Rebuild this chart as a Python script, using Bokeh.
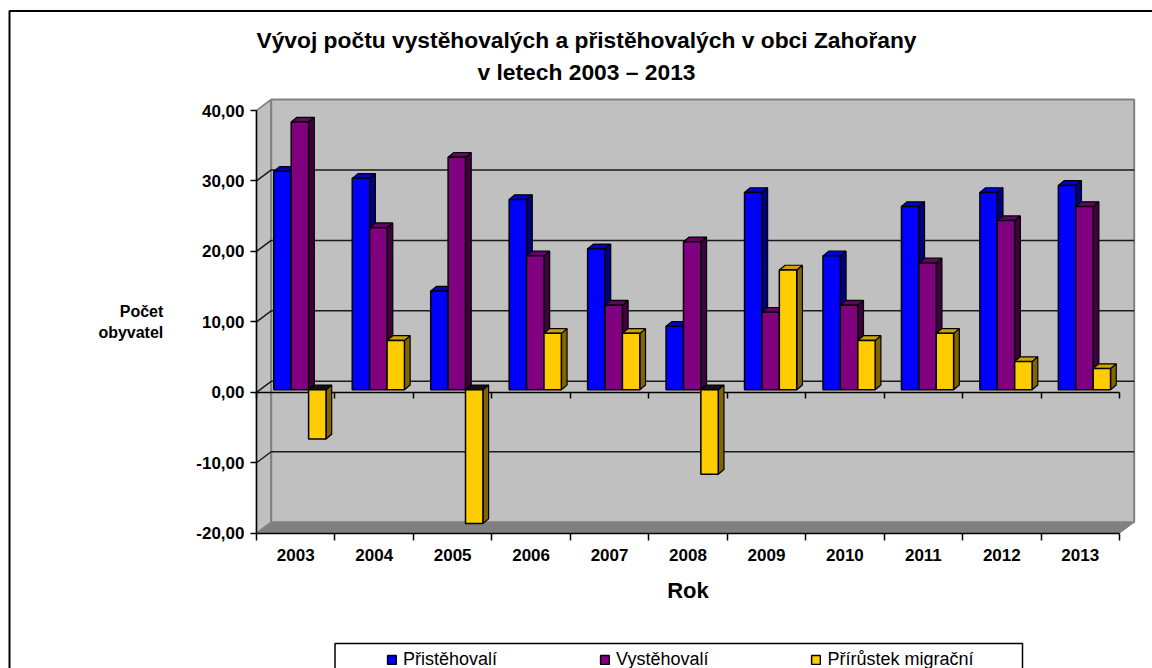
from bokeh.plotting import figure
from bokeh.embed import file_html
from bokeh.resources import INLINE
from bokeh.models import (Range1d, LinearAxis, FixedTicker, Legend, LegendItem, Label)

years = ["2003", "2004", "2005", "2006", "2007", "2008", "2009", "2010", "2011", "2012", "2013"]
pristehovali = [31, 30, 14, 27, 20, 9, 28, 19, 26, 28, 29]
vystehovali = [38, 23, 33, 19, 12, 21, 11, 12, 18, 24, 26]
prirustek = [-7, 7, -19, 8, 8, -12, 17, 7, 8, 4, 3]
y_ticks = [-20, -10, 0, 10, 20, 30, 40]
y_labels = ["-20,00", "-10,00", "0,00", "10,00", "20,00", "30,00", "40,00"]
series_names = ["Přistěhovalí", "Vystěhovalí", "Přírůstek migrační"]
front_colors = ["#0000FF", "#800080", "#FFCC00"]
side_colors = ["#000080", "#400040", "#806600"]
top_colors = ["#0000CC", "#660066", "#CCA300"]
title_lines = ["Vývoj počtu vystěhovalých a přistěhovalých v obci Zahořany", "v letech 2003 – 2013"]

W, H = 1152, 668
ORG = 0
AX_L, AX_B = 256.0, 532.7
PX_X = (1119 - 256) / 11.0
PX_Y = (532.7 - 110.0) / 60.0

def X(px): return (px - AX_L) / PX_X
def Y(py): return (AX_B - py) / PX_Y - 20
def DX(px): return px / PX_X
def DY(px): return px / PX_Y

p = figure(width=W, height=H, output_backend="svg", toolbar_location=None,
           x_range=Range1d(X(ORG), X(ORG + W)), y_range=Range1d(Y(ORG + H), Y(ORG)),
           min_border=0, x_axis_type=None, y_axis_type=None, outline_line_color=None,
           background_fill_color="white", border_fill_color="white")
p.xgrid.visible = False
p.ygrid.visible = False

wall_dx, wall_dy = DX(14.7), DY(11)
# outer frame
p.line([X(1160), X(9), X(9)], [Y(10.5), Y(10.5), Y(680)], line_color="black", line_width=2, level="image")
# walls
p.patches([[0, wall_dx, wall_dx, 0]], [[-20, -20 + wall_dy, 40 + wall_dy, 40]],
          fill_color="#C0C0C0", line_color="#808080", line_width=1.5, level="image")
p.patches([[0, wall_dx, wall_dx + 11, 11]], [[-20, -20 + wall_dy, -20 + wall_dy, -20]],
          fill_color="#808080", line_color="#808080", level="image")
p.quad(left=wall_dx, right=wall_dx + 11, bottom=-20 + wall_dy, top=40 + wall_dy,
       fill_color="#C0C0C0", line_color="#808080", line_width=2, level="image")
gx, gy = [], []
for t in y_ticks[1:-1]:
    gx.append([0, wall_dx, wall_dx + 11])
    gy.append([t, t + wall_dy, t + wall_dy])
p.multi_line(gx, gy, line_color="#1a1a1a", line_width=1.5, level="image")
p.line([0, wall_dx], [40, 40 + wall_dy], line_color="#808080", line_width=1.5, level="image")

# bars
bar_w = DX(17.4)
bar_x0 = DX(17.3)
base = DY(2.6)
depth_x, depth_y = DX(5.7), DY(4.7)
fronts = []
for s, vals in enumerate([pristehovali, vystehovali, prirustek]):
    lefts = [i + bar_x0 + s * bar_w for i in range(len(vals))]
    rights = [l + bar_w for l in lefts]
    bot = [min(v, 0) + base for v in vals]
    tops = [max(v, 0) + base for v in vals]
    side_x = [[r, r + depth_x, r + depth_x, r] for r in rights]
    side_y = [[b, b + depth_y, t + depth_y, t] for b, t in zip(bot, tops)]
    p.patches(side_x, side_y, fill_color=side_colors[s], line_color="black", line_width=1.2)
    top_x = [[l, l + depth_x, r + depth_x, r] for l, r in zip(lefts, rights)]
    top_y = [[t, t + depth_y, t + depth_y, t] for t in tops]
    top_fill = [("#111111" if v < 0 else top_colors[s]) for v in vals]
    p.patches(top_x, top_y, fill_color=top_fill, line_color="black", line_width=1.2)
    fronts.append(p.quad(left=lefts, right=rights, bottom=bot, top=tops,
                         fill_color=front_colors[s], line_color="black", line_width=1.5))

# axes
FONT = "Liberation Sans"
yaxis = LinearAxis(ticker=FixedTicker(ticks=y_ticks), bounds=(-20, 40), fixed_location=0,
                   major_label_overrides={t: l for t, l in zip(y_ticks, y_labels)},
                   major_label_text_font=FONT, major_label_text_font_style="bold",
                   major_label_text_font_size="17px", major_label_text_color="black",
                   major_label_standoff=6, major_tick_in=0, major_tick_out=6,
                   minor_tick_in=0, minor_tick_out=0,
                   major_tick_line_color="black", major_tick_line_width=1.5,
                   axis_line_color="black", axis_line_width=1.5,
                   axis_label="Počet\nobyvatel", axis_label_orientation="horizontal",
                   axis_label_text_font=FONT, axis_label_text_font_style="bold",
                   axis_label_text_font_size="16px", axis_label_text_color="black",
                   axis_label_text_line_height=1.25,
                   axis_label_standoff=30)
p.add_layout(yaxis, "left")

centers = [i + 0.5 for i in range(len(years))]
edges = list(range(len(years) + 1))
xaxis = LinearAxis(ticker=FixedTicker(ticks=centers, minor_ticks=edges), bounds=(0, 11), fixed_location=-20,
                   major_label_overrides={c: y for c, y in zip(centers, years)},
                   major_label_text_font=FONT, major_label_text_font_style="bold",
                   major_label_text_font_size="17px", major_label_text_color="black",
                   major_label_standoff=9, major_tick_in=0, major_tick_out=0,
                   minor_tick_in=0, minor_tick_out=7,
                   minor_tick_line_color="black", minor_tick_line_width=1.5,
                   axis_line_color="black", axis_line_width=1.5,
                   axis_label="Rok", axis_label_text_font=FONT, axis_label_text_font_style="bold",
                   axis_label_text_font_size="22px", axis_label_text_color="black",
                   axis_label_standoff=13)
p.add_layout(xaxis, "below")

zero_axis = LinearAxis(ticker=FixedTicker(ticks=[], minor_ticks=edges), bounds=(0, 11),
                       fixed_location=0, major_label_text_font_size="0px",
                       major_tick_in=0, major_tick_out=0, minor_tick_in=0, minor_tick_out=6,
                       minor_tick_line_color="black", minor_tick_line_width=1.5,
                       axis_line_color="black", axis_line_width=1.5, level="underlay")
p.add_layout(zero_axis, "below")

# title
for text, py in zip(title_lines, [39, 71]):
    p.add_layout(Label(x=X(586), y=Y(py), text=text, text_font=FONT, text_font_style="bold",
                       text_font_size="22.8px", text_align="center", text_baseline="middle",
                       text_color="black"))

# legend box
p.line([X(334.5), X(334.5), X(1022), X(1022)], [Y(680), Y(643), Y(643), Y(680)],
       line_color="black", line_width=1.5)

legend = Legend(items=[LegendItem(label=n, renderers=[r]) for n, r in zip(series_names, fronts)],
                orientation="horizontal", location=(386, -2),
                border_line_color=None, background_fill_alpha=0,
                label_text_font=FONT, label_text_font_size="18px", label_text_color="black",
                glyph_width=11, glyph_height=11, label_standoff=6, spacing=102,
                padding=0, margin=0, label_height=14)
p.add_layout(legend)

open("out.html", "w").write(file_html(p, INLINE))
